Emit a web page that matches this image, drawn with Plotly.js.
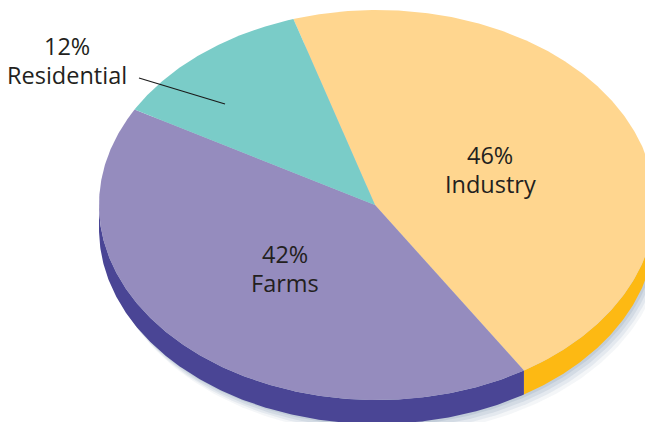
<!DOCTYPE html>
<html><head><meta charset="utf-8">
<script src="https://cdn.plot.ly/plotly-3.0.1.min.js"></script>
<style>html,body{margin:0;padding:0;background:#fff}</style></head>
<body><div id="chart" style="width:645px;height:422px"></div>
<script>
const categories = ['Industry', 'Farms', 'Residential'];
const shares = [46, 42, 12];
const topColors = ['#FFD68F', '#958CBE', '#7ACCC8'];
const rimColors = ['#FDB913', '#4A4595', '#3FA9A5'];

const ax = 375, ay = 205, cx = 377, cy = 205, rx = 278, ry = 195, depth = 24, startDeg = -17.5;
const total = shares.reduce((a, b) => a + b, 0);
const pt = (deg, dy = 0) => {
  const t = deg * Math.PI / 180;
  return [cx + rx * Math.sin(t), cy - ry * Math.cos(t) + dy];
};
let a = startDeg;
const rimTraces = [], faceTraces = [], shadowTraces = [];
// soft drop shadow under the disc
[[8, 11, 0.10], [6, 8, 0.16], [4, 5, 0.22], [2, 2, 0.28]].forEach(([dx, dy, al]) => {
  const xs = [], ys = [];
  for (let d = 0; d <= 360; d += 1) { const p = pt(d, depth + dy); xs.push(p[0] + dx); ys.push(p[1]); }
  shadowTraces.push({type:'scatter', mode:'lines', x:xs, y:ys, fill:'toself',
    fillcolor:'rgba(150,170,190,' + al + ')', line:{width:0}, hoverinfo:'skip', showlegend:false});
});
shares.forEach((v, i) => {
  const b = a + v / total * 360;
  const xs = [ax], ys = [ay];
  for (let d = a; d < b; d += 0.5) { const p = pt(d); xs.push(p[0]); ys.push(p[1]); }
  const e = pt(b); xs.push(e[0], ax); ys.push(e[1], ay);
  faceTraces.push({type:'scatter', mode:'lines', x:xs, y:ys, fill:'toself', fillcolor:topColors[i],
    line:{width:0, color:topColors[i]}, hoverinfo:'skip', showlegend:false, name:categories[i]});
  const ra = Math.max(a, 90), rb = Math.min(b, 270);
  if (rb > ra) {
    const rx1 = [], ry1 = [], rx2 = [], ry2 = [];
    for (let d = ra; d < rb; d += 0.5) {
      const p = pt(d); rx1.push(p[0]); ry1.push(p[1]);
      const q = pt(d, depth); rx2.unshift(q[0]); ry2.unshift(q[1]);
    }
    const p = pt(rb), q = pt(rb, depth);
    rx1.push(p[0]); ry1.push(p[1]); rx2.unshift(q[0]); ry2.unshift(q[1]);
    rimTraces.push({type:'scatter', mode:'lines', x:rx1.concat(rx2), y:ry1.concat(ry2), fill:'toself',
      fillcolor:rimColors[i], line:{width:0, color:rimColors[i]}, hoverinfo:'skip', showlegend:false});
  }
  a = b;
});
const leader = {type:'scatter', mode:'lines', x:[139,225], y:[78,104], line:{color:'#1a1a1a', width:1.2},
  hoverinfo:'skip', showlegend:false};

const font = {family:'"Open Sans", "Noto Sans", sans-serif', size:23.5, color:'#231f20'};
const note = (x, y, text) => ({x, y, xref:'x', yref:'y', text, showarrow:false, font,
  xanchor:'center', yanchor:'middle'});
const label = (x, y1, y2, i) => [note(x, y1, shares[i] + '%'), note(x, y2, categories[i])];

Plotly.newPlot('chart', shadowTraces.concat(rimTraces, faceTraces, [leader]), {
  width:645, height:422, margin:{l:0,r:0,t:0,b:0},
  paper_bgcolor:'#fff', plot_bgcolor:'#fff', showlegend:false,
  xaxis:{range:[0,645], visible:false, fixedrange:true},
  yaxis:{range:[422,0], visible:false, fixedrange:true},
  annotations:[...label(490,155,184,0), ...label(285,254,283,1), ...label(67,45.5,74.5,2)]
}, {displayModeBar:false, staticPlot:true});
</script></body></html>
